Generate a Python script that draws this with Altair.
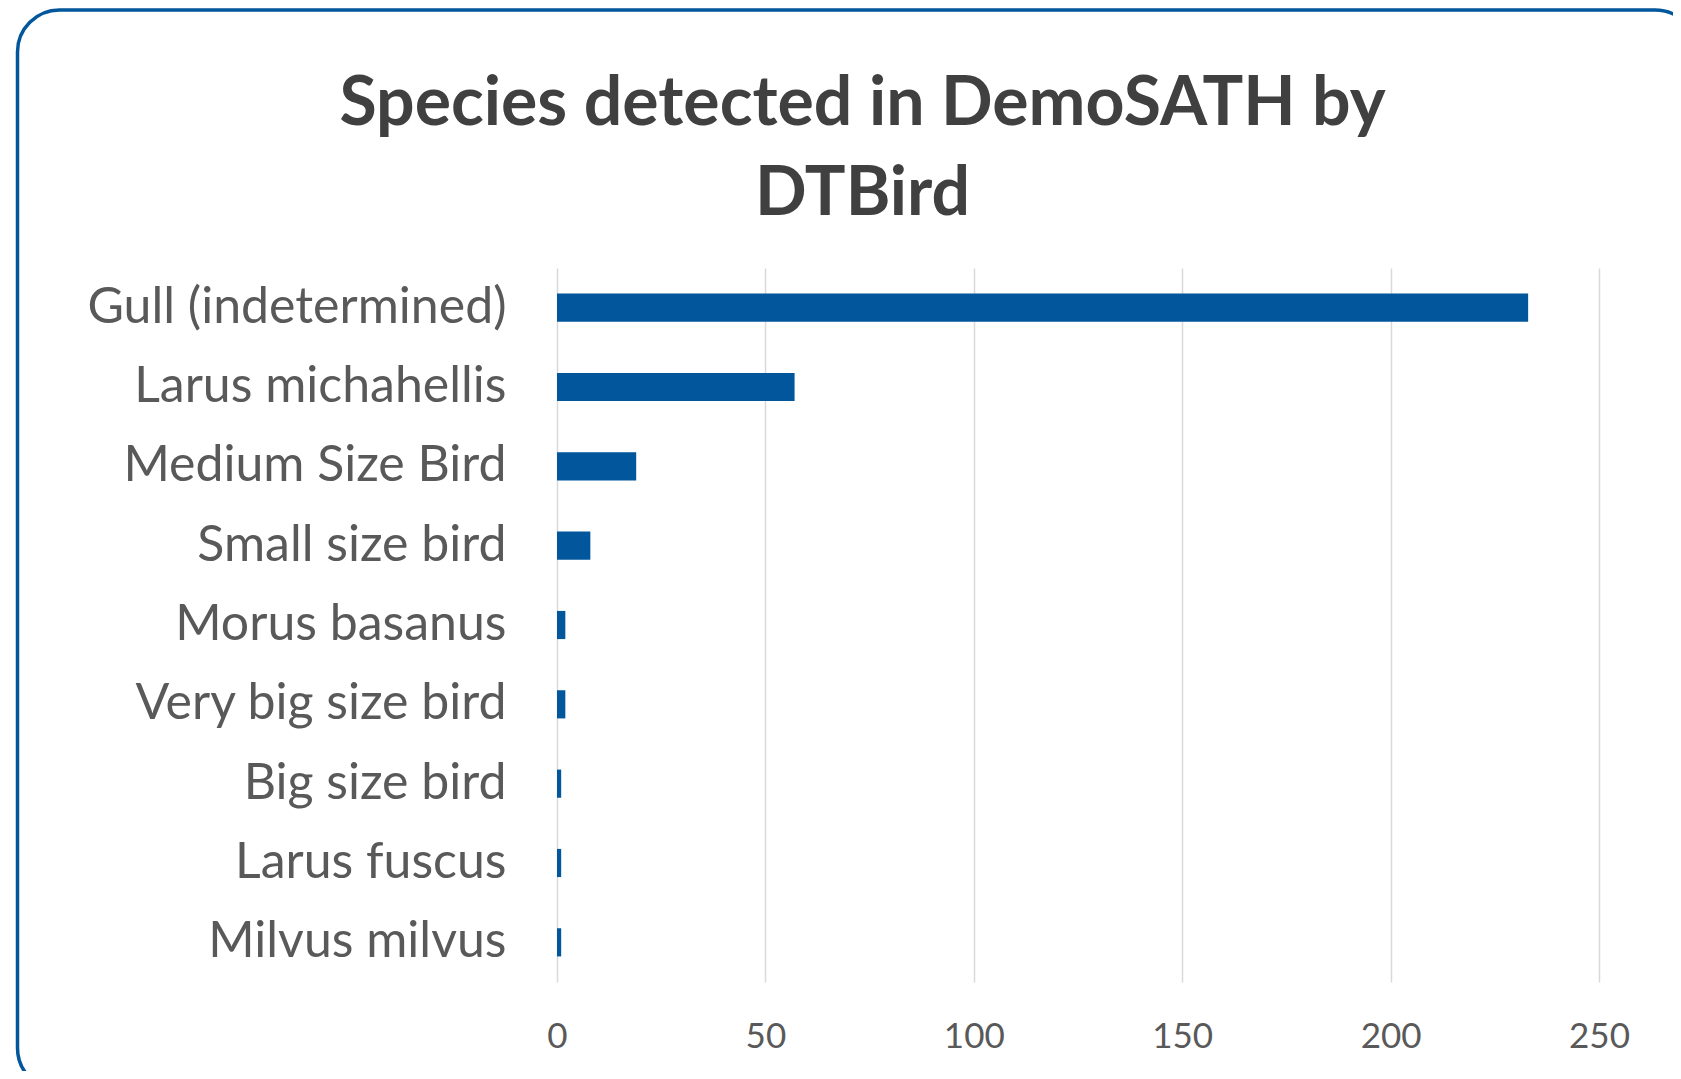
import altair as alt
import pandas as pd

species = [
    "Gull (indetermined)",
    "Larus michahellis",
    "Medium Size Bird",
    "Small size bird",
    "Morus basanus",
    "Very big size bird",
    "Big size bird",
    "Larus fuscus",
    "Milvus milvus",
]
counts = [233, 57, 19, 8, 2, 2, 1, 1, 1]
x_ticks = [0, 50, 100, 150, 200, 250]
title_lines = ["Species detected in DemoSATH by", "DTBird"]

df = pd.DataFrame({"species": species, "count": counts})

FONT = "Lato"
BLUE = "#02569B"

bars = alt.Chart(df).mark_bar(color=BLUE).encode(
    x=alt.X(
        "count:Q",
        scale=alt.Scale(domain=[0, 250], nice=False),
        axis=alt.Axis(
            values=x_ticks,
            title=None,
            domain=False,
            ticks=False,
            grid=True,
            gridColor="#D9D9D9",
            gridWidth=1.5,
            labelFont=FONT,
            labelFontSize=35,
            labelColor="#595959",
            labelPadding=37,
            labelFlush=False,
        ),
    ),
    y=alt.Y(
        "species:N",
        sort=species,
        scale=alt.Scale(paddingInner=0.645, paddingOuter=0.3225),
        axis=alt.Axis(
            title=None,
            domain=False,
            ticks=False,
            grid=False,
            labelFont=FONT,
            labelFontSize=50,
            labelColor="#595959",
            labelPadding=51,
            labelLimit=0,
        ),
    ),
)

frame = alt.Chart(pd.DataFrame({"k": [0]})).mark_rect(
    fill="transparent", stroke=BLUE, strokeWidth=3.5, cornerRadius=42
).encode(
    x=alt.value(-539.5), x2=alt.value(1140), y=alt.value(-258), y2=alt.value(822)
)

title_style = dict(
    font=FONT, fontSize=68, fontWeight="bold", color="#404040",
    align="center", baseline="alphabetic",
)
title1 = alt.Chart(pd.DataFrame({"t": [title_lines[0]]})).mark_text(**title_style).encode(
    text="t:N", x=alt.value(305.5), y=alt.value(-143)
)
title2 = alt.Chart(pd.DataFrame({"t": [title_lines[1]]})).mark_text(**title_style).encode(
    text="t:N", x=alt.value(305.5), y=alt.value(-53.5)
)

chart = alt.layer(frame, bars, title1, title2).properties(
    width=1042,
    height=714,
    padding={"left": 549, "top": 260, "right": 74, "bottom": 89},
    autosize=alt.AutoSizeParams(type="none"),
).configure_view(stroke=None)

chart.save("out.html", embed_options={"renderer": "svg", "actions": False})
